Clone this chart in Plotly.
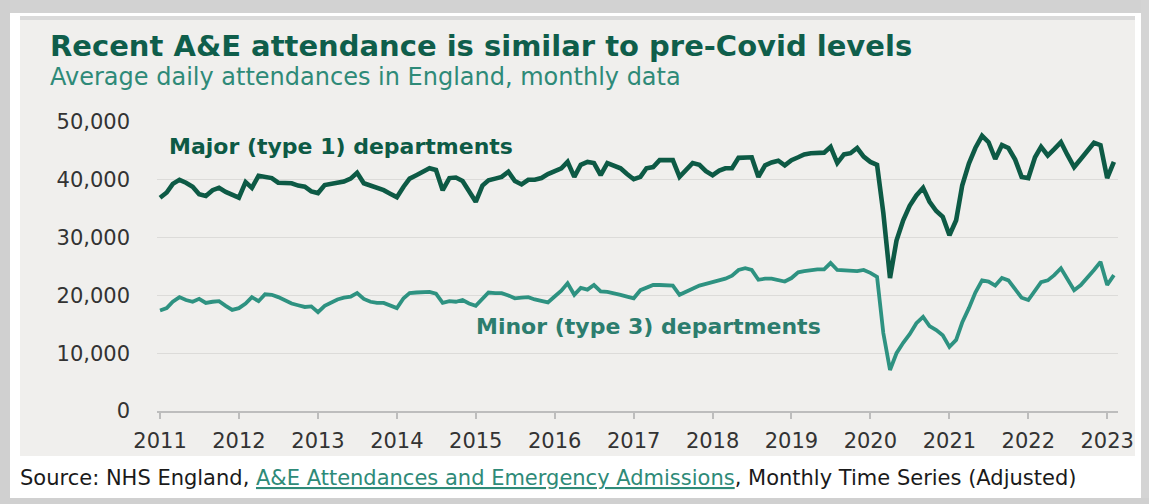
import pandas as pd
import plotly.graph_objects as go

# Monthly data, Jan 2011 - Feb 2023 (average daily attendances)
start_month = "2011-01-01"
major = [
    # 2011
    36900, 37800, 39300, 40000, 39500, 38800, 37500, 37200, 38200, 38600, 37900, 37400,
    # 2012
    36900, 39600, 38600, 40700, 40500, 40300, 39500, 39400, 39400, 39000, 38800, 38000,
    # 2013
    37700, 39100, 39300, 39500, 39700, 40200, 41200, 39400, 39000, 38600, 38200, 37600,
    # 2014
    37000, 38800, 40200, 40800, 41500, 42000, 41700, 38200, 40300, 40400, 39800, 38000,
    # 2015
    36200, 39000, 39900, 40200, 40500, 41400, 39800, 39200, 40000, 40000, 40300, 41000,
    # 2016
    41600, 42000, 43100, 40500, 42600, 43100, 42900, 40800, 42900, 42500, 42000, 41000,
    # 2017
    40100, 40500, 42000, 42200, 43400, 43400, 43400, 40500, 41800, 42900, 42600, 41500,
    # 2018
    40800, 41600, 42000, 42000, 43800, 43800, 43900, 40500, 42500, 43000, 43300, 42500,
    # 2019
    43400, 43900, 44400, 44600, 44600, 44700, 45700, 42900, 44400, 44600, 45500, 44000,
    # 2020
    43100, 42600, 34300, 23000, 29500, 33000, 35500, 37300, 38600, 36200, 34600, 33600,
    # 2021
    30400, 33000, 39000, 42800, 45500, 47600, 46500, 43600, 46000, 45500, 43500, 40500,
    # 2022
    40300, 43900, 45700, 44200, 45300, 46500, 44300, 42200, 43600, 45000, 46400, 46000,
    # 2023
    40300, 43100,
]
minor = [
    # 2011
    17400, 17800, 18900, 19700, 19200, 18900, 19400, 18700, 18900, 19000, 18200, 17500,
    # 2012
    17800, 18600, 19700, 19000, 20200, 20100, 19700, 19200, 18600, 18300, 18000, 18100,
    # 2013
    17100, 18200, 18800, 19300, 19600, 19800, 20400, 19400, 18900, 18700, 18700, 18300,
    # 2014
    17800, 19500, 20400, 20500, 20600, 20600, 20300, 18700, 19000, 18900, 19200, 18600,
    # 2015
    18200, 19500, 20500, 20400, 20400, 20000, 19500, 19600, 19700, 19300, 19000, 18800,
    # 2016
    19800, 20800, 22100, 20100, 21300, 21000, 21800, 20700, 20600, 20400, 20100, 19800,
    # 2017
    19500, 20900, 21400, 21800, 21800, 21800, 21700, 20100, 20700, 21200, 21700, 22000,
    # 2018
    22300, 22600, 22900, 23400, 24400, 24700, 24400, 22700, 22900, 22900, 22700, 22400,
    # 2019
    23000, 24000, 24200, 24400, 24500, 24500, 25600, 24400, 24300, 24200, 24200, 24400,
    # 2020
    23900, 23200, 13500, 7100, 10000, 11800, 13300, 15200, 16300, 14700, 14000, 13100,
    # 2021
    11100, 12300, 15300, 17800, 20500, 22600, 22400, 21700, 23000, 22600, 21200, 19600,
    # 2022
    19200, 20900, 22300, 22600, 23500, 24700, 22800, 20900, 21800, 23000, 24400, 25800,
    # 2023
    21800, 23500,
]
y_ticks = [0, 10000, 20000, 30000, 40000, 50000]
x_tick_years = list(range(2011, 2024))

months = pd.date_range(start_month, periods=len(major), freq="MS")

W, H = 1149, 504
L, R, T, B = 157, 31, 122, 93
PW, PH = W - L - R, H - T - B

def px_x(p):
    return (p - L) / PW

def px_y(p):
    return (H - B - p) / PH

DARK = "#0d5a45"
TEAL = "#2e9281"
CHART_BG = "#f0efed"

fig = go.Figure()
fig.add_trace(go.Scatter(x=months, y=major, mode="lines",
                         line=dict(color=DARK, width=4.6), hoverinfo="skip"))
fig.add_trace(go.Scatter(x=months, y=minor, mode="lines",
                         line=dict(color=TEAL, width=3.8), hoverinfo="skip"))

shapes = []
def rect(x0, y0, x1, y1, color):
    shapes.append(dict(type="rect", xref="paper", yref="paper",
                       x0=px_x(x0), x1=px_x(x1), y0=px_y(y0), y1=px_y(y1),
                       fillcolor=color, line=dict(width=0), layer="below"))

# outer frame
rect(0, 0, W, 13, "#d2d2d2")
rect(10, 13, W - 8, 16, "#ffffff")
rect(16, 16, W - 12, 20, "#dadada")
rect(0, 0, 10, H, "#d0d0d0")
rect(10, 13, 20, 498, "#ffffff")
rect(W - 14, 13, W - 8, 498, "#ffffff")
rect(W - 8, 0, W, H, "#d4d4d4")
rect(10, 456, W - 8, 498, "#ffffff")
rect(0, 498, W, H, "#d0d0d0")

annotations = [
    dict(text="<b>Recent A&E attendance is similar to pre-Covid levels</b>",
         xref="paper", yref="paper", x=px_x(48), y=px_y(46), xanchor="left", yanchor="middle",
         showarrow=False, font=dict(family="DejaVu Sans", size=29, color="#0f5e4b")),
    dict(text="Average daily attendances in England, monthly data",
         xref="paper", yref="paper", x=px_x(48), y=px_y(77), xanchor="left", yanchor="middle",
         showarrow=False, font=dict(family="DejaVu Sans", size=24, color="#2e8a78")),
    dict(text="<b>Major (type 1) departments</b>",
         xref="paper", yref="paper", x=px_x(167), y=px_y(146), xanchor="left", yanchor="middle",
         showarrow=False, font=dict(family="DejaVu Sans", size=22, color=DARK)),
    dict(text="<b>Minor (type 3) departments</b>",
         xref="paper", yref="paper", x=px_x(474), y=px_y(326), xanchor="left", yanchor="middle",
         showarrow=False, font=dict(family="DejaVu Sans", size=22, color="#2c7d6e")),
    dict(text="Source: NHS England, <a href='https://www.england.nhs.uk/statistics/' style='color:#2e8a78'><u>A&E Attendances and Emergency Admissions</u></a>, Monthly Time Series (Adjusted)",
         xref="paper", yref="paper", x=px_x(18), y=px_y(478), xanchor="left", yanchor="middle",
         showarrow=False, font=dict(family="DejaVu Sans", size=21, color="#1a1a1a")),
]

fig.update_layout(
    width=W, height=H,
    margin=dict(l=L, r=R, t=T, b=B),
    paper_bgcolor=CHART_BG, plot_bgcolor=CHART_BG,
    showlegend=False,
    shapes=shapes,
    annotations=annotations,
    xaxis=dict(
        range=["2010-12-18", "2023-02-20"],
        tickvals=[pd.Timestamp(f"{y}-01-01") for y in x_tick_years],
        ticktext=[str(y) for y in x_tick_years],
        showgrid=False, zeroline=False,
        showline=True, linecolor="#bdbdbd", linewidth=1.5,
        ticks="outside", ticklen=6, tickcolor="#bdbdbd", tickwidth=1.5,
        tickfont=dict(family="DejaVu Sans", size=21, color="#333333"),
        ticklabelstandoff=4,
    ),
    yaxis=dict(
        range=[0, 50000],
        tickvals=y_ticks, tickformat=",",
        showgrid=True, gridcolor="#dcdbd9", gridwidth=1.2,
        zeroline=False, showline=False, ticks="",
        tickfont=dict(family="DejaVu Sans", size=21, color="#333333"),
        ticklabelstandoff=26,
    ),
)

fig.write_html("out.html")
